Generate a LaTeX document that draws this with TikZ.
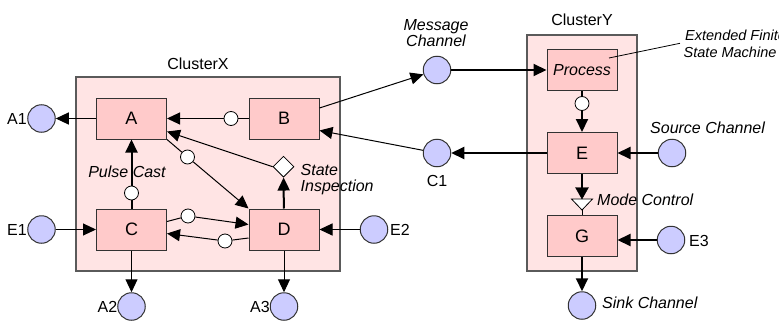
\documentclass[tikz,border=0pt]{standalone}
\usepackage{fontspec}
\setmainfont{Liberation Sans}
\usetikzlibrary{arrows.meta,shapes.geometric,calc}
\definecolor{clusterfill}{RGB}{255,228,228}
\definecolor{clusterline}{RGB}{90,90,90}
\definecolor{boxfill}{RGB}{255,202,202}
\definecolor{boxline}{RGB}{50,50,50}
\definecolor{chanfill}{RGB}{204,204,255}

\begin{document}
\begin{tikzpicture}[x=1pt,y=-1pt,
  >={Triangle[length=13pt,width=12pt]},
  cluster/.style={draw=clusterline, fill=clusterfill, line width=1.3pt},
  proc/.style={draw=boxline, fill=boxfill, line width=1pt, minimum width=70pt,
    minimum height=41pt, inner sep=0pt, font=\fontsize{18}{18}\selectfont},
  chan/.style={circle, draw=boxline, fill=chanfill, line width=1pt,
    minimum size=27.5pt, inner sep=0pt},
  port/.style={circle, draw=black, fill=white, line width=0.8pt,
    minimum size=14pt, inner sep=0pt},
  probe/.style={diamond, draw=black, fill=white, line width=0.8pt,
    minimum width=21pt, minimum height=21pt, inner sep=0pt},
  lbl/.style={font=\fontsize{16}{16}\selectfont, inner sep=0pt},
  ilbl/.style={font=\fontsize{16}{16}\selectfont\itshape, inner sep=0pt},
  note/.style={font=\fontsize{14.5}{14.5}\selectfont\itshape, inner sep=0pt},
  flow/.style={line width=1pt, ->},
  bflow/.style={line width=2pt, ->}]

\useasboundingbox (0,0) rectangle (779,324);

% clusters
\draw[cluster] (76,77) rectangle (340,271);
\draw[cluster] (527,35) rectangle (637,271);
\node[lbl, anchor=base] (cx) at (198,69.3) {ClusterX};
\node[lbl, anchor=base] (cy) at (582,25) {ClusterY};

% processes of ClusterX
\node[proc] (A) at (131.5,118.5) {A};
\node[proc] (B) at (284,118.5) {B};
\node[proc] (C) at (131.5,229.5) {C};
\node[proc] (D) at (284,229.5) {D};

% processes of ClusterY
\node[proc, font=\fontsize{16}{16}\selectfont\itshape] (P) at (582,70) {Process};
\node[proc] (E) at (582,153) {E};
\node[proc] (G) at (582,236) {G};

% channels
\node[chan] (A1) at (41.5,118.5) {};
\node[chan] (E1) at (41.5,229.5) {};
\node[chan] (A2) at (131.5,306.5) {};
\node[chan] (A3) at (284,306.5) {};
\node[chan] (E2) at (374,229.5) {};
\node[chan] (MC) at (437,70) {};
\node[chan] (C1) at (437,153) {};
\node[chan] (SC) at (672,153) {};
\node[chan] (E3) at (671,240) {};
\node[chan] (SK) at (582,305.5) {};

% channel labels
\node[lbl, anchor=base east] (lA1) at (27,124.3) {A1};
\node[lbl, anchor=base east] (lE1) at (27,235.3) {E1};
\node[lbl, anchor=base east] (lA2) at (117.5,312.3) {A2};
\node[lbl, anchor=base east] (lA3) at (270,312.3) {A3};
\node[lbl, anchor=base west] (lE2) at (390,235.3) {E2};
\node[lbl, anchor=base west] (lE3) at (689,246) {E3};
\node[lbl, anchor=base] (lC1) at (437,186.5) {C1};
\node[ilbl, anchor=base] (lMC1) at (436,30) {Message};
\node[ilbl, anchor=base] (lMC2) at (436,46.7) {Channel};
\node[ilbl, anchor=base west] (lSC) at (650,133) {Source Channel};
\node[ilbl, anchor=base west] (lSK) at (602,308.3) {Sink Channel};

% small ports on the links
\node[port] (pBA) at (231,118.5) {};
\node[port] (pCA) at (131.5,193) {};
\node[port] (pAD) at (187.5,157) {};
\node[port] (pCD) at (188,216) {};
\node[port] (pDC) at (225,241) {};
\node[port] (pPE) at (582,103.5) {};
\node[probe] (SI) at (283.5,166.7) {};

% links inside ClusterX
\draw[flow] (A) -- (A1);
\draw[flow] (B) -- (pBA) -- (A);
\draw[bflow] (C) -- (pCA) -- (A);
\draw[flow] (A.south east) -- (pAD) -- (D.north west);
\draw[flow] ([yshift=8pt]C.east) -- (pCD) -- ([yshift=5pt]D.west);
\draw[flow] ([yshift=-8.5pt]D.west) -- (pDC) -- ([yshift=-4pt]C.east);
\draw[bflow] (D) -- (SI);
\draw[flow] (SI.west) -- ([yshift=-13pt]A.east);
\draw[flow] (E1) -- (C);
\draw[flow] (E2) -- (D);
\draw[flow] (C) -- (A2);
\draw[flow] (D) -- (A3);

% links between the clusters
\draw[flow] ([yshift=10.5pt]B.east) -- (MC);
\draw[flow] (C1) -- ([yshift=-12pt]B.east);

% links of ClusterY
\draw[bflow] (MC) -- (P);
\draw[bflow] (E) -- (C1);
\draw[bflow] (SC) -- (E);
\draw[bflow] (E3) -- (E3 -| G.east);
\draw[bflow] (G) -- (SK);
\draw[bflow] (P) -- (pPE) -- (E);

% mode control
\coordinate (mcTop) at (582,199);
\coordinate (mcBot) at (582,210);
\draw[line width=2pt] (E) -- ([yshift=10pt]mcTop);
\draw[line width=0.8pt, fill=white] (571.5,199) -- (592.5,199) -- (mcBot) -- cycle;
\draw[fill=black] (575.5,187.5) -- (588.5,187.5) -- (mcTop) -- cycle;
\draw[line width=1pt] (mcBot) -- (G);

% link labels
\node[ilbl, anchor=base] (lPC) at (127,177.3) {Pulse Cast};
\node[ilbl, anchor=base west] (lSI1) at (300.5,175) {State};
\node[ilbl, anchor=base west] (lSI2) at (300.5,191.7) {Inspection};
\node[ilbl, anchor=base west] (lMd) at (597,205) {Mode Control};

% annotation of the process
\node[note, anchor=base west] (ef1) at (685,40.5) {Extended Finite};
\node[note, anchor=base west] (ef2) at (683.5,57.3) {State Machine};
\coordinate (efIn) at (609,58);
\coordinate (efOut) at (680,43.3);
\draw[line width=0.8pt] (efIn) -- (efOut);
\end{tikzpicture}
\end{document}
